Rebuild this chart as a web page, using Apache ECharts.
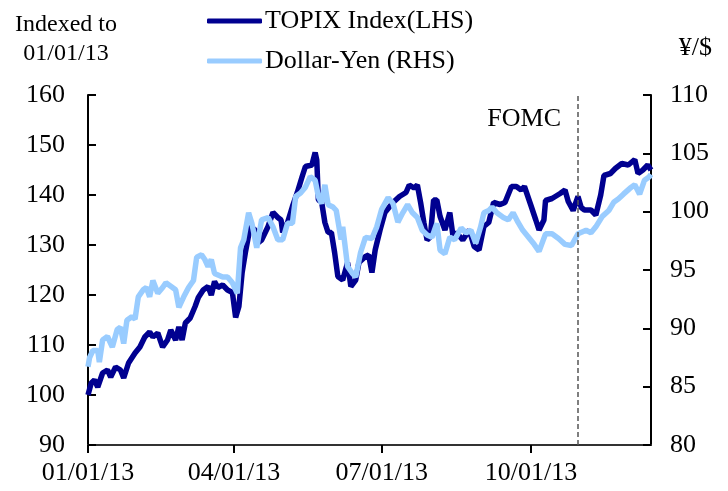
<!doctype html>
<html>
    <head>
        <meta charset="utf-8">
        <title>TOPIX vs Dollar-Yen</title>
        <style>
            html, body { margin: 0; padding: 0; background: #fff; }
            #main { width: 728px; height: 491px; }
        </style>
    </head>
    <body>
        <div id="main"></div>
        <script src="https://cdn.jsdelivr.net/npm/echarts@6/dist/echarts.min.js"></script>
        <script>
            // TOPIX, indexed to 01/01/13 = 100 (left axis)
            var topixDates = [
                '2013-01-01', '2013-01-03', '2013-01-05', '2013-01-07', '2013-01-10', '2013-01-13', '2013-01-15',
                '2013-01-18', '2013-01-21', '2013-01-23', '2013-01-26', '2013-01-30', '2013-02-02', '2013-02-05',
                '2013-02-08', '2013-02-10', '2013-02-13', '2013-02-16', '2013-02-19', '2013-02-21', '2013-02-24',
                '2013-02-26', '2013-02-28', '2013-03-02', '2013-03-05', '2013-03-08', '2013-03-10', '2013-03-13',
                '2013-03-16', '2013-03-18', '2013-03-20', '2013-03-22', '2013-03-25', '2013-03-28', '2013-03-31',
                '2013-04-02', '2013-04-04', '2013-04-06', '2013-04-08', '2013-04-11', '2013-04-14', '2013-04-16',
                '2013-04-18', '2013-04-22', '2013-04-25', '2013-04-28', '2013-04-30', '2013-05-01', '2013-05-04',
                '2013-05-07', '2013-05-10', '2013-05-13', '2013-05-15', '2013-05-19', '2013-05-21', '2013-05-22',
                '2013-05-23', '2013-05-25', '2013-05-27', '2013-05-29', '2013-05-31', '2013-06-02', '2013-06-04',
                '2013-06-07', '2013-06-10', '2013-06-12', '2013-06-15', '2013-06-17', '2013-06-21', '2013-06-23',
                '2013-06-25', '2013-06-27', '2013-06-30', '2013-07-03', '2013-07-08', '2013-07-12', '2013-07-16',
                '2013-07-18', '2013-07-21', '2013-07-23', '2013-07-25', '2013-07-27', '2013-07-29', '2013-07-31',
                '2013-08-02', '2013-08-04', '2013-08-06', '2013-08-09', '2013-08-12', '2013-08-14', '2013-08-16',
                '2013-08-20', '2013-08-24', '2013-08-27', '2013-08-30', '2013-09-02', '2013-09-05', '2013-09-08',
                '2013-09-12', '2013-09-15', '2013-09-19', '2013-09-22', '2013-09-25', '2013-09-27', '2013-09-28',
                '2013-10-01', '2013-10-04', '2013-10-06', '2013-10-09', '2013-10-10', '2013-10-14', '2013-10-19',
                '2013-10-22', '2013-10-24', '2013-10-27', '2013-10-30', '2013-11-01', '2013-11-03', '2013-11-07',
                '2013-11-10', '2013-11-13', '2013-11-15', '2013-11-19', '2013-11-22', '2013-11-26', '2013-11-30',
                '2013-12-04', '2013-12-06', '2013-12-09', '2013-12-12', '2013-12-14'
            ];
            var topixValues = [
                100, 102.4, 103, 101.6, 104.4, 105, 103.6,
                105.6, 105, 103.4, 106.4, 108.4, 109.6, 111.6,
                112.6, 111.6, 112.4, 109.6, 111, 113, 111,
                113.6, 111, 114.4, 115.4, 117.7, 119.5, 121,
                121.7, 120, 122.7, 121.5, 122, 121, 120.5,
                115.5, 117.7, 124.5, 128.5, 133.7, 133, 130.5,
                131, 133.7, 136.5, 135.5, 135, 132.5, 134.5,
                137.7, 140.5, 143.7, 145.7, 146, 148.5, 147,
                139, 138.6, 134.5, 132.5, 132.5, 128.5, 123.7,
                123, 126.5, 121.7, 123, 126.5, 127.7, 128,
                124.5, 129, 133, 136.5, 138.5, 139.7, 140.5,
                142, 141.4, 142, 138.5, 134.5, 131, 131.6,
                139, 139, 135.7, 133, 136.5, 131.7, 132.5,
                131, 133, 129.7, 129, 133.7, 134.5, 138.5,
                138.1, 138.5, 141.7, 141.7, 141, 141.7, 141.5,
                137.9, 135, 133, 135, 138.9, 139.3, 140.3,
                141, 138.7, 136.9, 139.7, 137.5, 137, 137,
                136, 140, 143.9, 144.3, 145.3, 146.3, 146,
                147.1, 144.3, 145, 146, 145
            ];

            // Dollar-Yen, yen per dollar (right axis)
            var yenDates = [
                '2013-01-01', '2013-01-02', '2013-01-04', '2013-01-07', '2013-01-08', '2013-01-10', '2013-01-13',
                '2013-01-16', '2013-01-19', '2013-01-21', '2013-01-23', '2013-01-25', '2013-01-28', '2013-01-30',
                '2013-02-01', '2013-02-04', '2013-02-06', '2013-02-08', '2013-02-10', '2013-02-13', '2013-02-16',
                '2013-02-18', '2013-02-21', '2013-02-24', '2013-02-26', '2013-03-01', '2013-03-04', '2013-03-07',
                '2013-03-09', '2013-03-12', '2013-03-14', '2013-03-16', '2013-03-18', '2013-03-20', '2013-03-25',
                '2013-03-28', '2013-03-31', '2013-04-03', '2013-04-05', '2013-04-07', '2013-04-10', '2013-04-12',
                '2013-04-15', '2013-04-18', '2013-04-22', '2013-04-25', '2013-04-28', '2013-05-01', '2013-05-04',
                '2013-05-07', '2013-05-09', '2013-05-12', '2013-05-15', '2013-05-18', '2013-05-21', '2013-05-23',
                '2013-05-25', '2013-05-27', '2013-05-29', '2013-06-01', '2013-06-03', '2013-06-06', '2013-06-07',
                '2013-06-10', '2013-06-13', '2013-06-15', '2013-06-18', '2013-06-21', '2013-06-25', '2013-06-28',
                '2013-07-01', '2013-07-05', '2013-07-08', '2013-07-11', '2013-07-14', '2013-07-17', '2013-07-20',
                '2013-07-23', '2013-07-26', '2013-07-29', '2013-08-01', '2013-08-04', '2013-08-06', '2013-08-09',
                '2013-08-12', '2013-08-15', '2013-08-19', '2013-08-22', '2013-08-25', '2013-08-28', '2013-08-31',
                '2013-09-02', '2013-09-05', '2013-09-07', '2013-09-10', '2013-09-14', '2013-09-17', '2013-09-20',
                '2013-09-23', '2013-09-26', '2013-09-29', '2013-10-03', '2013-10-06', '2013-10-10', '2013-10-14',
                '2013-10-18', '2013-10-22', '2013-10-26', '2013-10-30', '2013-11-04', '2013-11-07', '2013-11-10',
                '2013-11-14', '2013-11-18', '2013-11-21', '2013-11-24', '2013-11-27', '2013-12-01', '2013-12-04',
                '2013-12-07', '2013-12-10', '2013-12-13', '2013-12-14'
            ];
            var yenValues = [
                86.7, 87.5, 88.1, 88.1, 87.1, 89, 89.3,
                88.4, 89.9, 90.1, 88.7, 90.7, 91, 90.8,
                92.7, 93.3, 93.5, 92.7, 94.1, 93, 93.5,
                93.9, 93.6, 93.3, 91.8, 92.7, 93.5, 94.1,
                96.1, 96.3, 95.9, 95.3, 95.9, 94.7, 94.4,
                94.4, 93.9, 93, 96.9, 97.6, 99.9, 99,
                96.9, 99.3, 99.5, 98.7, 97.6, 97.6, 99,
                99, 101.3, 101.6, 102.1, 103, 102.7, 101.3,
                100.7, 102.3, 100.6, 100.4, 100.1, 97.6, 98.7,
                95.3, 94.7, 94.4, 96.5, 97.8, 97.7, 98.7,
                100.2, 101.2, 100.7, 99.1, 99.9, 100.6, 99.9,
                99.5, 98.4, 98, 97.8, 99, 96.7, 96.4,
                97.8, 97.6, 98.6, 98.2, 98.4, 97.3, 98.7,
                99.9, 100.1, 100.4, 99.9, 99.5, 99.3, 99.9,
                99.1, 98.4, 97.9, 97.2, 96.6, 98.1, 98.1,
                97.7, 97.2, 97.1, 98.1, 98.4, 98.2, 98.7,
                99.6, 100.1, 100.8, 101.1, 101.5, 102, 102.3,
                101.5, 102.7, 103, 103.2
            ];

            var tickDates = ['2013-01-01', '2013-04-01', '2013-07-01', '2013-10-01'];
            var fomcDate = '2013-10-30';
            var xStart = '2013-01-01';
            var xEnd = '2013-12-14';

            function toTime(s) {
                var p = s.split('-');
                return new Date(+p[0], +p[1] - 1, +p[2]).getTime();
            }
            function pad(n) {
                return (n < 10 ? '0' : '') + n;
            }
            function zip(dates, values) {
                return dates.map(function (d, i) {
                    return [toTime(d), values[i]];
                });
            }

            var serif = 'Liberation Serif';
            var tickTimes = tickDates.map(toTime);

            var chart = echarts.init(document.getElementById('main'));

            chart.setOption({
                animation: false,
                textStyle: { fontFamily: serif },
                grid: { left: 88, right: 77, top: 95, bottom: 46 },
                legend: {
                    orient: 'vertical',
                    left: 207,
                    top: 8,
                    padding: 0,
                    itemWidth: 55,
                    itemHeight: 5,
                    itemGap: 14,
                    icon: 'roundRect',
                    textStyle: { fontFamily: serif, fontSize: 26, color: '#000', padding: [0, 0, 0, -2] },
                    data: ['TOPIX Index(LHS)', 'Dollar-Yen (RHS)']
                },
                graphic: [
                    {
                        type: 'text',
                        x: 66,
                        y: 10,
                        style: {
                            text: 'Indexed to\n01/01/13',
                            font: '24px "Liberation Serif"',
                            fill: '#000',
                            align: 'center',
                            lineHeight: 29
                        }
                    },
                    {
                        type: 'text',
                        x: 712,
                        y: 35,
                        style: { text: '¥/$', font: '26px "Liberation Serif"', fill: '#000', align: 'right' }
                    },
                    {
                        type: 'text',
                        x: 561,
                        y: 106,
                        style: { text: 'FOMC', font: '26px "Liberation Serif"', fill: '#000', align: 'right' }
                    }
                ],
                xAxis: {
                    type: 'value',
                    min: toTime(xStart),
                    max: toTime(xEnd),
                    axisLine: { lineStyle: { color: '#333', width: 2 } },
                    axisTick: {
                        show: true,
                        customValues: tickTimes,
                        length: 8,
                        lineStyle: { color: '#000', width: 2 }
                    },
                    axisLabel: {
                        customValues: tickTimes,
                        margin: 15,
                        fontFamily: serif,
                        fontSize: 26,
                        color: '#000',
                        formatter: function (v) {
                            var d = new Date(v);
                            return pad(d.getMonth() + 1) + '/' + pad(d.getDate()) + '/' + pad(d.getFullYear() % 100);
                        }
                    },
                    splitLine: { show: false }
                },
                yAxis: [
                    {
                        type: 'value',
                        min: 90,
                        max: 160,
                        interval: 10,
                        axisLine: { show: true, lineStyle: { color: '#000', width: 2 } },
                        axisTick: { show: true, inside: true, length: 8, lineStyle: { color: '#000', width: 2 } },
                        axisLabel: { margin: 23, fontFamily: serif, fontSize: 26, color: '#000' },
                        splitLine: { show: false }
                    },
                    {
                        type: 'value',
                        min: 80,
                        max: 110,
                        interval: 5,
                        position: 'right',
                        axisLine: { show: true, lineStyle: { color: '#000', width: 2 } },
                        axisTick: { show: true, inside: true, length: 8, lineStyle: { color: '#000', width: 2 } },
                        axisLabel: { margin: 19, fontFamily: serif, fontSize: 26, color: '#000' },
                        splitLine: { show: false }
                    }
                ],
                series: [
                    {
                        name: 'TOPIX Index(LHS)',
                        type: 'line',
                        yAxisIndex: 0,
                        symbol: 'none',
                        color: '#000090',
                        lineStyle: { width: 5.5, color: '#000090' },
                        data: zip(topixDates, topixValues),
                        markLine: {
                            silent: true,
                            symbol: 'none',
                            label: { show: false },
                            lineStyle: { type: [5, 3], color: '#555', width: 1.5 },
                            data: [{ xAxis: toTime(fomcDate) }]
                        }
                    },
                    {
                        name: 'Dollar-Yen (RHS)',
                        type: 'line',
                        yAxisIndex: 1,
                        symbol: 'none',
                        color: '#99ccff',
                        lineStyle: { width: 5.5, color: '#99ccff' },
                        data: zip(yenDates, yenValues)
                    }
                ]
            });

            window.onresize = chart.resize;
        </script>
    </body>
</html>
